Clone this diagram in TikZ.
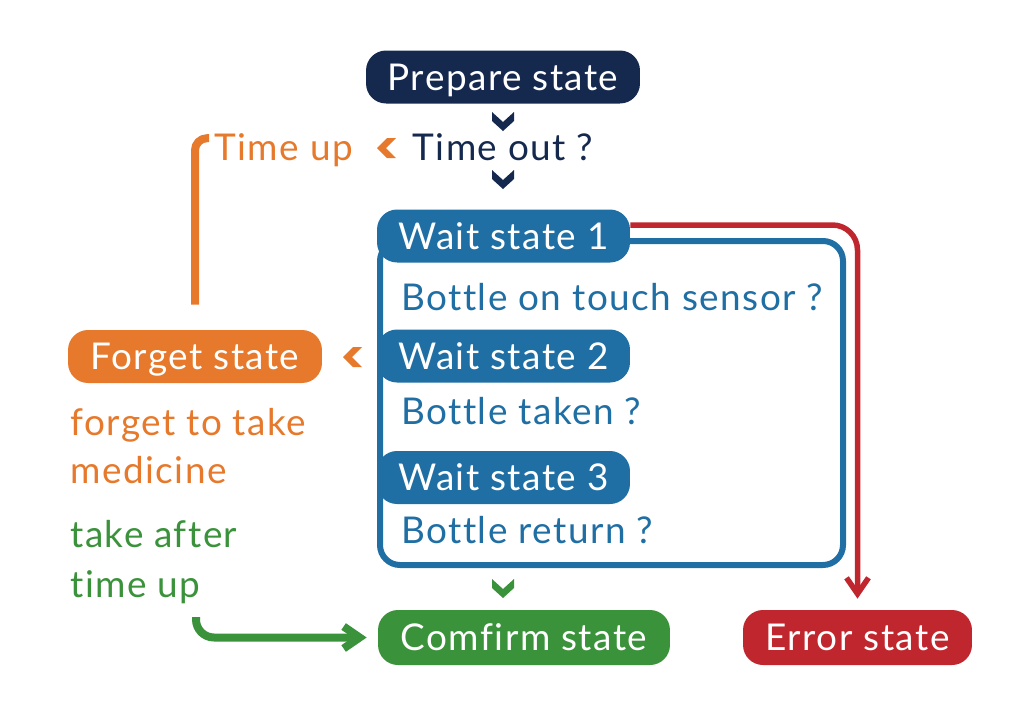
\documentclass[tikz,border=0pt]{standalone}
\usepackage{fontspec}
\setmainfont{Lato}[LetterSpace=4,Ligatures={NoCommon}]
\usetikzlibrary{arrows.meta,positioning}
\definecolor{navyC}{HTML}{15294F}
\definecolor{orangeC}{HTML}{E6792B}
\definecolor{blueC}{HTML}{1F6EA4}
\definecolor{greenC}{HTML}{3A923A}
\definecolor{redC}{HTML}{C0262D}
\begin{document}
\begin{tikzpicture}[
    x=0.02cm, y=-0.02cm,
    line join=round,
    every node/.style={font=\fontsize{21}{25}\selectfont},
    pill/.style={rounded corners=0.4cm,text=white,minimum height=1.06cm,
        inner sep=0pt,text height=15pt,text depth=0pt},
    waitpill/.style={pill,fill=blueC,minimum width=5.06cm},
    cue/.style={anchor=base,inner sep=0pt},
    question/.style={cue,anchor=base west,text=blueC},
    chevdown/.pic={\fill (-11,-10)--(0,0)--(11,-10)--(11,-1)--(0,9)--(-11,-1)--cycle;},
    chevleft/.pic={\fill (10,-10)--(0,0)--(10,10)--(1,10)--(-9,0)--(1,-10)--cycle;},
    flow/.style={line width=0.16cm,line cap=butt},
    barb/.style={-{Straight Barb[length=0.32cm,width=0.44cm]}}
]
    \useasboundingbox (0,0) rectangle (1032,711);

    % The wait states share one frame, drawn first so the pills sit on it.
    \draw[blueC,line width=0.12cm,rounded corners=0.4cm] (380,241) rectangle (843,565);

    \node[pill,fill=navyC,minimum width=5.48cm] (prepare) at (503,77) {Prepare state};
    \node[cue,text=navyC] (timeout) at (503,160) {Time out ?};
    \node[cue,anchor=base west,text=orangeC] (timeup) at (214,160) {Time up};

    \node[waitpill] (wait1) at (503.5,236) {Wait state 1};
    \node[question] (touch) at (401,310) {Bottle on touch sensor ?};
    \node[waitpill] (wait2) at (503.5,356) {Wait state 2};
    \node[question] (taken) at (401,424) {Bottle taken ?};
    \node[waitpill] (wait3) at (503.5,477.5) {Wait state 3};
    \node[question] (return) at (401,543) {Bottle return ?};

    \node[pill,fill=orangeC,minimum width=5.08cm] (forget) at (195,356.5) {Forget state};
    \node[cue,anchor=base west,text=orangeC] (forgetA) at (70,435) {forget to take};
    \node[cue,anchor=base west,text=orangeC] (forgetB) at (70,483) {medicine};
    \node[cue,anchor=base west,text=greenC] (lateA) at (70,547) {take after};
    \node[cue,anchor=base west,text=greenC] (lateB) at (70,597) {time up};

    \node[pill,fill=greenC,minimum width=5.84cm,minimum height=1.1cm] (comfirm) at (524,637.5) {Comfirm state};
    \node[pill,fill=redC,minimum width=4.58cm,minimum height=1.1cm] (error) at (857.5,637.5) {Error state};

    % Chevrons between the steps.
    \pic[navyC] at (503,122) {chevdown};
    \pic[navyC] at (503,180) {chevdown};
    \pic[greenC] at (503,589) {chevdown};
    \pic[orangeC] at (386,148) {chevleft};
    \pic[orangeC] at (352,357) {chevleft};

    % Connectors.
    \draw[flow,orangeC,rounded corners=0.24cm]
        ([yshift=0.5cm]forget.north) |- ([xshift=-0.1cm,yshift=0.23cm]timeup.west);
    \draw[redC,line width=0.11cm,rounded corners=0.5cm,barb,shorten >=0.22cm]
        ([yshift=0.22cm]wait1.east) -| (error);
    \coordinate (late) at (196,617);
    \draw[flow,greenC,rounded corners=0.36cm,barb,shorten >=0.22cm]
        (late) |- (comfirm);
\end{tikzpicture}
\end{document}
